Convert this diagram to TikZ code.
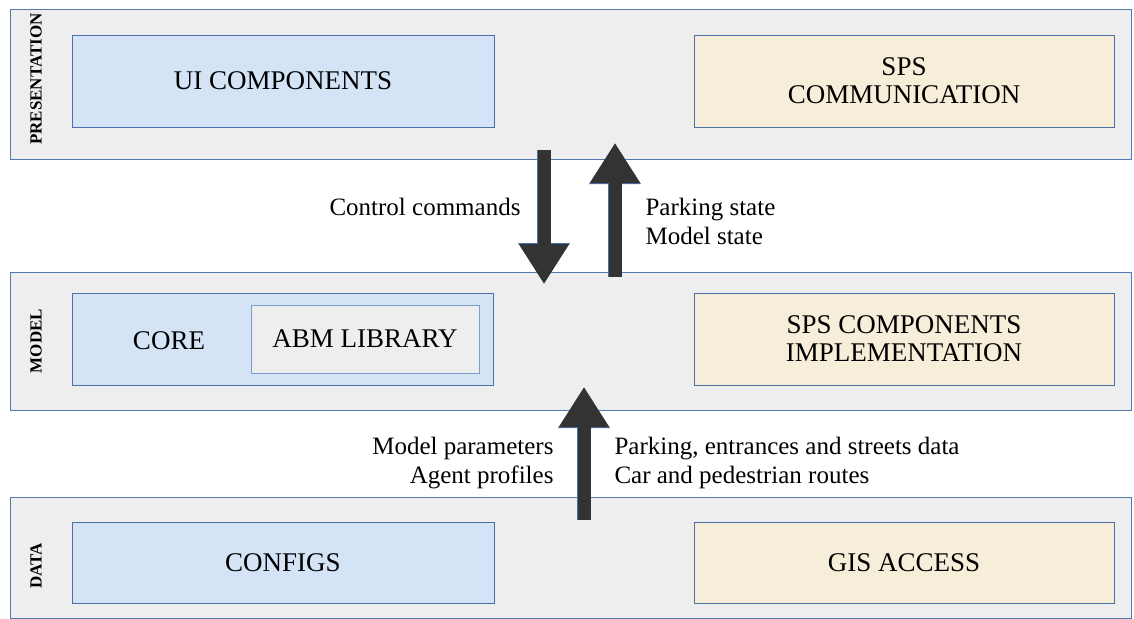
\documentclass[tikz,border=0pt]{standalone}
\usepackage{fontspec}
\setmainfont{Liberation Serif}
\usetikzlibrary{arrows.meta}
\definecolor{layergray}{HTML}{EEEEEE}
\definecolor{layerblue}{HTML}{5478B0}
\definecolor{boxblue}{HTML}{4A70A8}
\definecolor{uiblue}{HTML}{D4E4F6}
\definecolor{spsbeige}{HTML}{F7EED9}
\definecolor{libblue}{HTML}{7B9DCB}
\definecolor{flowgray}{HTML}{333333}

\begin{document}
\begin{tikzpicture}[x=1pt, y=-1pt,
    layer/.style={draw=layerblue, fill=layergray, line width=0.8pt, minimum width=1121pt, inner sep=0pt},
    layertext/.style={rotate=90, font=\bfseries\fontsize{17}{17}\selectfont},
    block/.style={draw=boxblue, line width=0.8pt, inner sep=0pt, align=center, font=\fontsize{27}{28}\selectfont},
    blocktext/.style={font=\fontsize{27}{28}\selectfont},
    flowtext/.style={font=\fontsize{25}{29}\selectfont},
    flow/.style={line width=13pt, flowgray, -{Triangle[length=40pt, width=47pt]},
        preaction={draw=boxblue, line width=14.6pt, -{Triangle[length=41pt, width=49pt]}}}]

\useasboundingbox (0,0) rectangle (1134,618);

% Layer bands
\foreach \y/\h/\name/\lby/\lbl in {84/150/pres/79/PRESENTATION, 341/138/model/341/MODEL, 557.5/121/data/566/DATA} {
    \node[layer, minimum height=\h*1pt] (\name) at (570.5,\y) {};
    \node[layertext] (\name-lbl) at (36,\lby) {\lbl};
}

% Presentation layer
\node[block, fill=uiblue, minimum width=422pt, minimum height=92pt] (ui) at (283,81) {UI COMPONENTS};
\node[block, fill=spsbeige, minimum width=420pt, minimum height=92pt] (spscom) at (904,81) {SPS\\COMMUNICATION};

% Model layer
\node[block, fill=uiblue, minimum width=421pt, minimum height=92pt] (core) at (282.5,339) {};
\node[blocktext] (core-lbl) at (169,341) {CORE};
\node[block, draw=libblue, fill=layergray, minimum width=228pt, minimum height=68pt] (abm) at (365,339) {ABM LIBRARY};
\node[block, fill=spsbeige, minimum width=420pt, minimum height=92pt] (spsimpl) at (904,339) {SPS COMPONENTS\\IMPLEMENTATION};

% Data layer
\node[block, fill=uiblue, minimum width=422pt, minimum height=81pt] (configs) at (283,562.5) {CONFIGS};
\node[block, fill=spsbeige, minimum width=420pt, minimum height=81pt] (gis) at (904,562.5) {GIS ACCESS};

% Flows between layers
\coordinate (cmd-start) at (544,150);
\coordinate (cmd-end) at (544,284);
\coordinate (state-start) at (615,277);
\coordinate (state-end) at (615,143);
\coordinate (input-start) at (584,520);
\coordinate (input-end) at (584,387);
\draw[flow] (cmd-start) -- (cmd-end);
\draw[flow] (state-start) -- (state-end);
\draw[flow] (input-start) -- (input-end);

\node[flowtext, anchor=east] (cmd-lbl) at (524,207) {Control commands};
\node[flowtext, anchor=west, align=left] (state-lbl) at (642,221) {Parking state\\Model state};
\node[flowtext, anchor=east, align=right] (param-lbl) at (557,463) {Model parameters\\Agent profiles};
\node[flowtext, anchor=west, align=left] (gis-lbl) at (611,463) {Parking, entrances and streets data\\Car and pedestrian routes};
\end{tikzpicture}
\end{document}
